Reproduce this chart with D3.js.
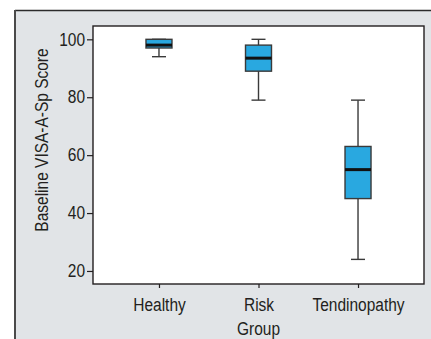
<!DOCTYPE html>
<html><head><meta charset="utf-8">
<script src="https://cdn.jsdelivr.net/npm/d3@7"></script>
<style>
html,body{margin:0;padding:0;background:#fff;}
svg{display:block;}
text{font-family:"Liberation Sans",Arial,sans-serif;fill:#231f20;}
</style></head>
<body>
<script>
const categories = ["Healthy", "Risk", "Tendinopathy"];
const whiskerLow = [94, 79, 24];
const q1 = [97, 89, 45];
const median = [98, 93.5, 55];
const q3 = [100, 98, 63];
const whiskerHigh = [100, 100, 79];
const yTicks = [20, 40, 60, 80, 100];

const W = 431, H = 339;
const plot = {left: 93, top: 26, right: 424, bottom: 284};
const FONT = '"Liberation Sans",Arial,sans-serif';

const svg = d3.select("body").append("svg").attr("width", W).attr("height", H);

// outer gray panel
svg.append("rect").attr("x", 15).attr("y", 10).attr("width", W - 15).attr("height", H - 10)
  .attr("fill", "#e1e4e7");
svg.append("line").attr("x1", 15).attr("x2", W).attr("y1", 10.5).attr("y2", 10.5)
  .attr("stroke", "#2b2b2b").attr("stroke-width", 1.6);
svg.append("line").attr("x1", 15).attr("x2", 15).attr("y1", 10).attr("y2", H)
  .attr("stroke", "#4a4a4a").attr("stroke-width", 2);

// plot area
svg.append("rect").attr("x", plot.left).attr("y", plot.top)
  .attr("width", plot.right - plot.left).attr("height", plot.bottom - plot.top)
  .attr("fill", "#fff").attr("stroke", "#231f20").attr("stroke-width", 1.4);

const y = d3.scaleLinear().domain([15.5, 104.6]).range([plot.bottom, plot.top]);
const x = d3.scalePoint().domain(categories).range([plot.left, plot.right]).padding(0.663);

const yAxis = svg.append("g").attr("transform", `translate(${plot.left},0)`)
  .call(d3.axisLeft(y).tickValues(yTicks).tickSize(6).tickPadding(2));
const xAxis = svg.append("g").attr("transform", `translate(0,${plot.bottom})`)
  .call(d3.axisBottom(x).tickSize(4).tickPadding(10));
[yAxis, xAxis].forEach(g => {
  g.select(".domain").remove();
  g.selectAll("line").attr("stroke", "#231f20").attr("stroke-width", 1.2);
  g.selectAll("text").attr("font-size", 18).attr("fill", "#231f20").attr("font-family", FONT);
});

const boxW = 26, capW = 14;
const data = categories.map((c, i) => ({c, lo: whiskerLow[i], q1: q1[i], med: median[i], q3: q3[i], hi: whiskerHigh[i]}));
const g = svg.append("g").selectAll("g").data(data).join("g")
  .attr("transform", d => `translate(${x(d.c)},0)`);
g.append("line").attr("x1", 0).attr("x2", 0).attr("y1", d => y(d.hi)).attr("y2", d => y(d.q3))
  .attr("stroke", "#3a3a3a").attr("stroke-width", 1.4);
g.append("line").attr("x1", 0).attr("x2", 0).attr("y1", d => y(d.q1)).attr("y2", d => y(d.lo))
  .attr("stroke", "#3a3a3a").attr("stroke-width", 1.4);
g.append("line").attr("x1", -capW/2).attr("x2", capW/2).attr("y1", d => y(d.hi)).attr("y2", d => y(d.hi))
  .attr("stroke", "#3a3a3a").attr("stroke-width", 1.4);
g.append("line").attr("x1", -capW/2).attr("x2", capW/2).attr("y1", d => y(d.lo)).attr("y2", d => y(d.lo))
  .attr("stroke", "#3a3a3a").attr("stroke-width", 1.4);
g.append("rect").attr("x", -boxW/2).attr("width", boxW)
  .attr("y", d => y(d.q3)).attr("height", d => y(d.q1) - y(d.q3))
  .attr("fill", "#29a8e0").attr("stroke", "#3a3a3a").attr("stroke-width", 1.4);
g.append("line").attr("x1", -boxW/2).attr("x2", boxW/2).attr("y1", d => y(d.med)).attr("y2", d => y(d.med))
  .attr("stroke", "#111").attr("stroke-width", 3);

// axis titles
svg.append("text").attr("transform", `translate(48,140) rotate(-90)`)
  .attr("text-anchor", "middle").attr("font-size", 18).text("Baseline VISA-A-Sp Score");
svg.append("text").attr("x", x("Risk")).attr("y", 335).attr("text-anchor", "middle")
  .attr("font-size", 18).text("Group");

// condense all text horizontally (narrow face)
svg.selectAll("text").each(function() {
  const len = this.getComputedTextLength();
  d3.select(this).attr("textLength", len * 0.86).attr("lengthAdjust", "spacingAndGlyphs");
});
</script>
</body></html>
